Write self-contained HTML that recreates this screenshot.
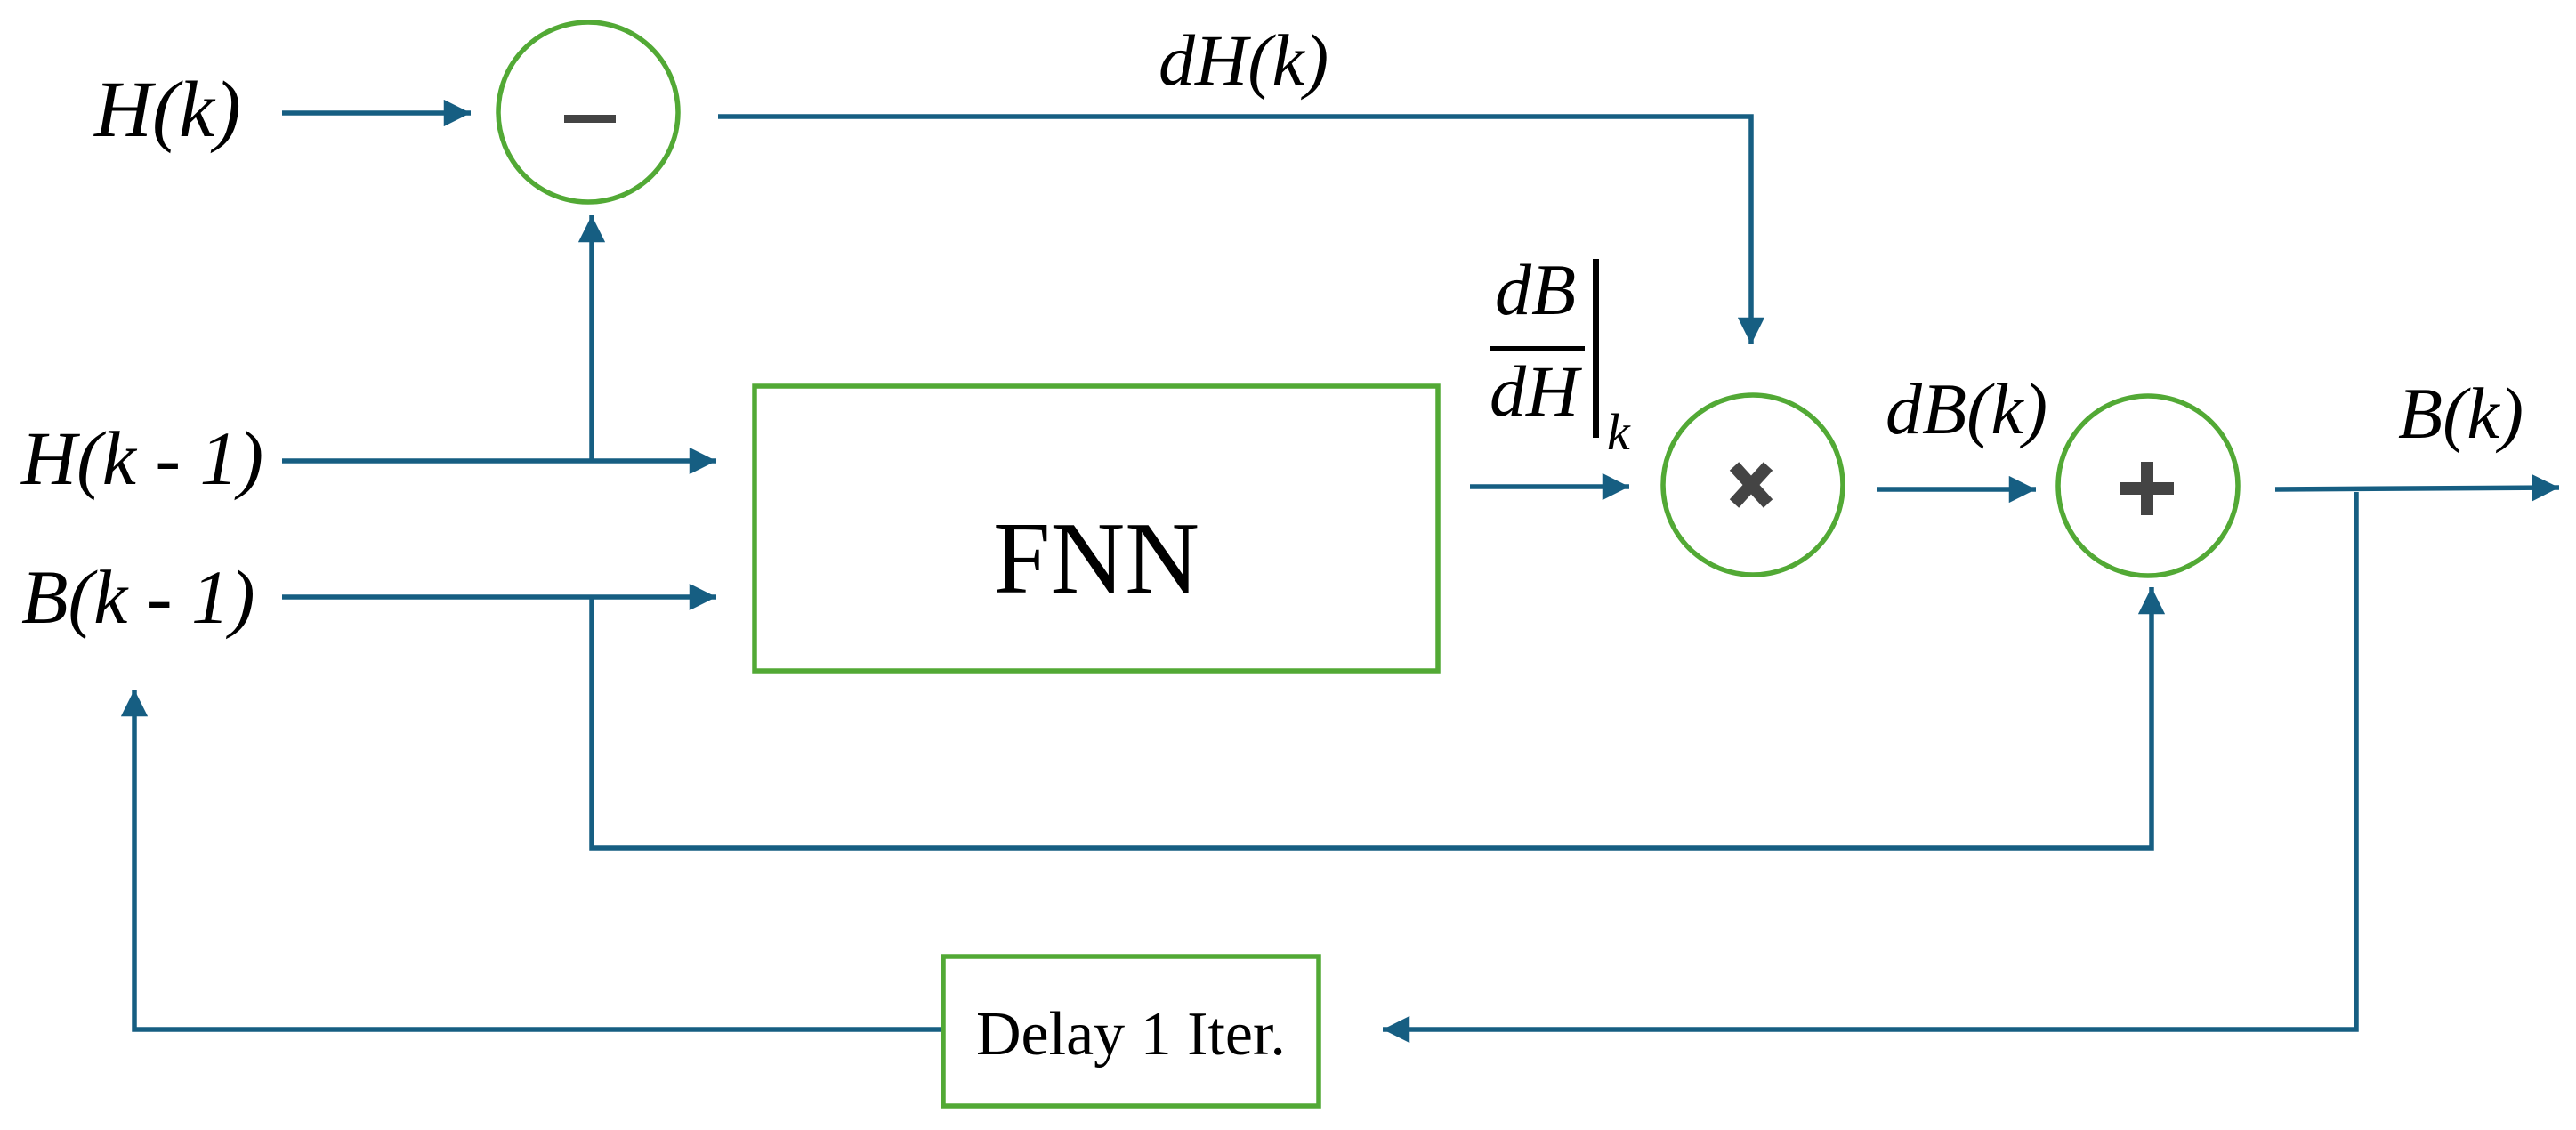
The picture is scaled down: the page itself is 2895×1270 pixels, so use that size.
<!DOCTYPE html>
<html><head><meta charset="utf-8"><style>
html,body{margin:0;padding:0;background:#fff;}
svg{display:block;}
.t{font-family:"Liberation Serif",serif;font-style:italic;fill:#000;}
</style></head><body>
<svg width="2895" height="1270" viewBox="0 0 2895 1270" xmlns="http://www.w3.org/2000/svg">
<defs>
<marker id="a" viewBox="0 0 10 10" refX="10" refY="5" markerWidth="6" markerHeight="5.5" markerUnits="strokeWidth" orient="auto">
<path d="M0,0 L10,5 L0,10 Z" fill="#165e82"/>
</marker>
</defs>
<g stroke="#165e82" stroke-width="5.5" fill="none">
<line x1="317" y1="127" x2="529" y2="127" marker-end="url(#a)"/>
<polyline points="807,131 1968,131 1968,387" marker-end="url(#a)"/>
<line x1="317" y1="518" x2="805" y2="518" marker-end="url(#a)"/>
<line x1="665" y1="518" x2="665" y2="242" marker-end="url(#a)"/>
<line x1="317" y1="671" x2="805" y2="671" marker-end="url(#a)"/>
<polyline points="665,671 665,953 2418,953 2418,660" marker-end="url(#a)"/>
<line x1="1652" y1="547" x2="1831" y2="547" marker-end="url(#a)"/>
<line x1="2109" y1="550" x2="2288" y2="550" marker-end="url(#a)"/>
<line x1="2557" y1="550" x2="2876" y2="548" marker-end="url(#a)"/>
<polyline points="2648,553 2648,1157 1554,1157" marker-end="url(#a)"/>
<polyline points="1060,1157 151,1157 151,775" marker-end="url(#a)"/>
</g>
<g stroke="#52a935" stroke-width="5.5" fill="none">
<circle cx="661" cy="126" r="101"/>
<circle cx="1970" cy="545" r="101"/>
<circle cx="2414" cy="546" r="101"/>
<rect x="848" y="434" width="768" height="320"/>
<rect x="1060" y="1075" width="422" height="168"/>
</g>
<rect x="634" y="129" width="58" height="9" fill="#444"/>
<g stroke="#444" stroke-width="14">
<line x1="1949" y1="524" x2="1987" y2="566"/>
<line x1="1987" y1="524" x2="1949" y2="566"/>
<line x1="2383" y1="549" x2="2443" y2="549"/>
<line x1="2413" y1="519" x2="2413" y2="579"/>
</g>
<text class="t" x="106" y="153" font-size="90">H(k)</text>
<text class="t" x="24" y="544" font-size="86">H(k - 1)</text>
<text class="t" x="24" y="700" font-size="86">B(k - 1)</text>
<text class="t" x="1302" y="95" font-size="82">dH(k)</text>
<text class="t" x="1680" y="353" font-size="82">dB</text>
<rect x="1674" y="389" width="107" height="6" fill="#000"/>
<text class="t" x="1674" y="467" font-size="82">dH</text>
<rect x="1790" y="291" width="7" height="201" fill="#000"/>
<text class="t" x="1806" y="505" font-size="58">k</text>
<text class="t" x="2119" y="487" font-size="82">dB(k)</text>
<text class="t" x="2695" y="492" font-size="82">B(k)</text>
<text x="1232" y="666" font-size="116" text-anchor="middle" font-family="Liberation Serif,serif">FNN</text>
<text x="1097" y="1185" font-size="70" font-family="Liberation Serif,serif">Delay 1 Iter.</text>
</svg>
</body></html>
